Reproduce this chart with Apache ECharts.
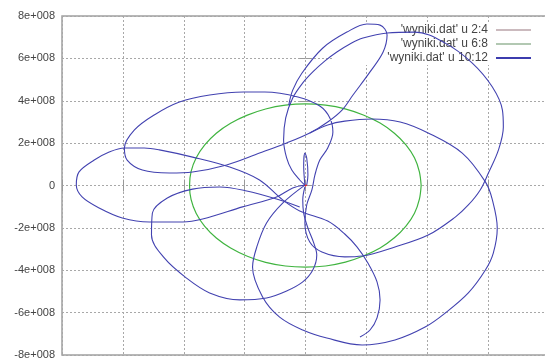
<!DOCTYPE html>
<html>
<head>
<meta charset="utf-8">
<script src="https://cdn.jsdelivr.net/npm/echarts@6/dist/echarts.min.js"></script>
<style>
  html, body { margin: 0; padding: 0; background: #fff; }
  #chart { width: 545px; height: 363px; }
</style>
</head>
<body>
<div id="chart"></div>
<script>
// All coordinates below are in units of 1e8 m.
const UNIT = 1e8;

const axisMin = -8;
const axisMax = 8;
const axisStep = 2;

const seriesNames = ["'wyniki.dat' u 2:4", "'wyniki.dat' u 6:8", "'wyniki.dat' u 10:12"];

// body 1 (columns 2:4) stays at the origin
const body1 = [[0, 0.03], [0.02, -0.03]];

// body 2 (columns 6:8), one revolution
const body2 = [
  [3.80, 0.00], [3.74, 0.66], [3.58, 1.31], [3.30, 1.92], [2.92, 2.47], [2.45, 2.95],
  [1.90, 3.33], [1.30, 3.62], [0.66, 3.79], [0.00, 3.85], [-0.66, 3.79], [-1.31, 3.61],
  [-1.91, 3.32], [-2.46, 2.94], [-2.93, 2.47], [-3.31, 1.92], [-3.59, 1.31], [-3.76, 0.66],
  [-3.81, 0.00], [-3.76, -0.66], [-3.59, -1.32], [-3.31, -1.93], [-2.93, -2.48], [-2.46, -2.95],
  [-1.91, -3.34], [-1.31, -3.63], [-0.66, -3.80], [0.00, -3.85], [0.66, -3.80], [1.31, -3.62],
  [1.90, -3.33], [2.45, -2.95], [2.92, -2.47], [3.30, -1.92], [3.58, -1.31], [3.74, -0.66],
  [3.80, 0.00]
];

// body 3 (columns 10:12), split into arcs that meet at crossings
const arcRightLoop = [
  [-0.02, 0.02], [-0.19, 0.26], [-0.45, 0.73], [-0.62, 1.30], [-0.72, 2.15], [-0.65, 3.19],
  [-0.42, 4.13], [-0.09, 4.84], [0.24, 5.36], [0.64, 5.88], [1.03, 6.30], [1.46, 6.68],
  [1.89, 6.96], [2.68, 7.20], [3.60, 7.24], [4.59, 6.72], [5.48, 5.78], [6.14, 4.65],
  [6.47, 3.56], [6.50, 2.76], [6.34, 1.68], [6.01, 0.59], [5.74, -0.21], [5.35, -0.92],
  [4.92, -1.49], [4.03, -2.34], [2.94, -2.90], [1.86, -3.33], [1.29, -3.37], [0.54, -3.14],
  [0.14, -2.67], [-0.02, -1.77], [0.04, -0.92], [0.21, -0.21], [0.31, 0.50], [0.47, 1.20],
  [0.73, 1.77], [0.90, 2.53], [0.80, 3.19], [0.47, 3.75], [-0.25, 4.18], [-1.34, 4.41],
  [-2.03, 4.41], [-3.15, 4.27], [-4.14, 3.94], [-4.97, 3.33], [-5.62, 2.62], [-5.95, 1.77],
  [-5.86, 1.20], [-5.36, 0.73], [-4.47, 0.59], [-3.71, 0.64], [-2.59, 0.97], [-1.51, 1.53],
  [-0.62, 2.01], [0.14, 2.48], [0.73, 3.00], [1.20, 3.56], [1.56, 4.27], [2.12, 5.36],
  [2.55, 6.30], [2.68, 7.10], [2.45, 7.57], [2.02, 7.62], [1.36, 7.24], [0.57, 6.49],
  [-0.12, 5.30], [-0.42, 4.50], [-0.55, 3.80]
];

const arcLeftLoop = [
  [-0.02, 0.02], [-0.42, -0.12], [-0.95, -0.54], [-2.07, -1.01], [-3.38, -1.58], [-4.04, -1.72],
  [-5.13, -1.72], [-6.02, -1.53], [-6.78, -1.06], [-7.34, -0.54], [-7.53, 0.02], [-7.44, 0.64],
  [-6.94, 1.20], [-6.45, 1.58], [-5.95, 1.77], [-5.30, 1.77], [-4.80, 1.68], [-3.71, 1.34],
  [-2.49, 0.87], [-1.51, 0.26], [-0.75, -0.68], [-0.19, -1.20], [0.73, -1.68], [1.29, -2.29],
  [1.69, -2.90], [2.05, -3.66], [2.35, -4.55], [2.45, -5.40], [2.35, -6.25], [2.12, -6.82],
  [1.79, -7.15]
];

const arcLowerRight = [
  [0.14, 2.48], [0.73, 2.86], [1.29, 3.04], [2.18, 3.14], [3.11, 3.00], [4.03, 2.48],
  [5.15, 1.53], [5.91, 0.17], [6.14, -0.68], [6.30, -2.01], [6.17, -3.19], [5.91, -3.99],
  [5.35, -5.07], [4.59, -6.02], [3.93, -6.68], [2.94, -7.29], [1.86, -7.53], [0.70, -7.20],
  [-0.09, -6.82], [-0.85, -6.21], [-1.41, -5.26], [-1.74, -3.85], [-1.60, -2.90], [-1.28, -1.77],
  [-0.75, -0.83], [-0.02, 0.02]
];

const arcLowerMiddle = [
  [-0.02, -0.07], [-0.09, -0.68], [-0.06, -1.30], [0.08, -2.01], [0.27, -2.71], [0.37, -3.28],
  [0.24, -3.99], [-0.09, -4.55], [-0.62, -4.98], [-1.28, -5.31], [-2.16, -5.40], [-3.15, -5.07],
  [-3.91, -4.37], [-4.64, -3.42], [-5.06, -2.34], [-5.03, -1.30], [-4.54, -0.59], [-3.71, -0.17],
  [-2.82, -0.07], [-1.93, -0.26], [-0.95, -0.64], [-0.19, -1.01]
];

const arcSpike = [
  [-0.02, 0.02], [-0.06, 0.97], [-0.02, 1.53], [0.04, 1.30], [0.08, 0.50], [0.04, 0.02]
];

const body3Arcs = [arcRightLoop, arcLeftLoop, arcLowerRight, arcLowerMiddle, arcSpike];

const colors = { body1: '#ff1a1a', body2: '#40b440', body3: '#4242b0' };
const legendColors = ['#cbbabe', '#b2c8b2', '#3c3cae'];

const toMeters = pts => pts.map(p => [p[0] * UNIT, p[1] * UNIT]);

function tickLabel(v) {
  if (v === 0) return '0';
  return (v / UNIT) + 'e+008';
}

const baseLine = (name, data, color, width, z) => ({
  name: name,
  type: 'line',
  data: toMeters(data),
  showSymbol: false,
  symbol: 'none',
  smooth: 0.35,
  lineStyle: { color: color, width: width },
  itemStyle: { color: color },
  animation: false,
  z: z
});

const series = [
  baseLine(seriesNames[0], body1, colors.body1, 2, 5),
  baseLine(seriesNames[1], body2, colors.body2, 1.2, 3)
];
body3Arcs.forEach(arc => series.push(baseLine(seriesNames[2], arc, colors.body3, 1.1, 4)));

const gridLine = { show: true, lineStyle: { color: '#a8a8a8', width: 1, type: [2, 2] } };
const tickStyle = { show: true, inside: true, length: 6, lineStyle: { color: '#999', width: 1 } };

// legend sample: a bar with a little blank lead-in on its left
const sampleIcon = 'path://M0,0 M3,0 L38,0 L38,2 L3,2 Z';

const chart = echarts.init(document.getElementById('chart'), null, { renderer: 'canvas' });
chart.setOption({
  backgroundColor: '#fff',
  animation: false,
  grid: {
    left: 62, top: 16, width: 487, height: 339,
    show: true, borderColor: '#a0a0a0', borderWidth: 1.5,
    containLabel: false, outerBoundsMode: 'none'
  },
  xAxis: [
    {
      type: 'value', min: axisMin * UNIT, max: axisMax * UNIT, interval: axisStep * UNIT,
      position: 'bottom', axisLine: { show: false }, axisTick: tickStyle,
      splitLine: gridLine,
      axisLabel: { formatter: tickLabel, color: '#444', fontFamily: 'Liberation Sans', fontSize: 11 }
    },
    {
      type: 'value', min: axisMin * UNIT, max: axisMax * UNIT, interval: axisStep * UNIT,
      position: 'top', axisLine: { show: false }, axisTick: tickStyle,
      splitLine: { show: false }, axisLabel: { show: false }
    }
  ],
  yAxis: [
    {
      type: 'value', min: axisMin * UNIT, max: axisMax * UNIT, interval: axisStep * UNIT,
      position: 'left', axisLine: { show: false }, axisTick: tickStyle,
      splitLine: gridLine,
      axisLabel: { formatter: tickLabel, color: '#444', fontFamily: 'Liberation Sans', fontSize: 11, margin: 7 }
    },
    {
      type: 'value', min: axisMin * UNIT, max: axisMax * UNIT, interval: axisStep * UNIT,
      position: 'right', axisLine: { show: false }, axisTick: tickStyle,
      splitLine: { show: false }, axisLabel: { show: false }
    }
  ],
  legend: {
    orient: 'vertical',
    align: 'right',
    right: 0,
    top: 22,
    padding: [1, 14, 0, 54],
    backgroundColor: '#fff',
    itemWidth: 38,
    itemHeight: 2,
    itemGap: 0,
    icon: sampleIcon,
    z: 1,
    textStyle: { color: '#444', fontFamily: 'Liberation Sans', fontSize: 12, lineHeight: 14 },
    data: seriesNames.map((n, i) => ({ name: n, itemStyle: { color: legendColors[i] } }))
  },
  series: series
});
</script>
</body>
</html>
